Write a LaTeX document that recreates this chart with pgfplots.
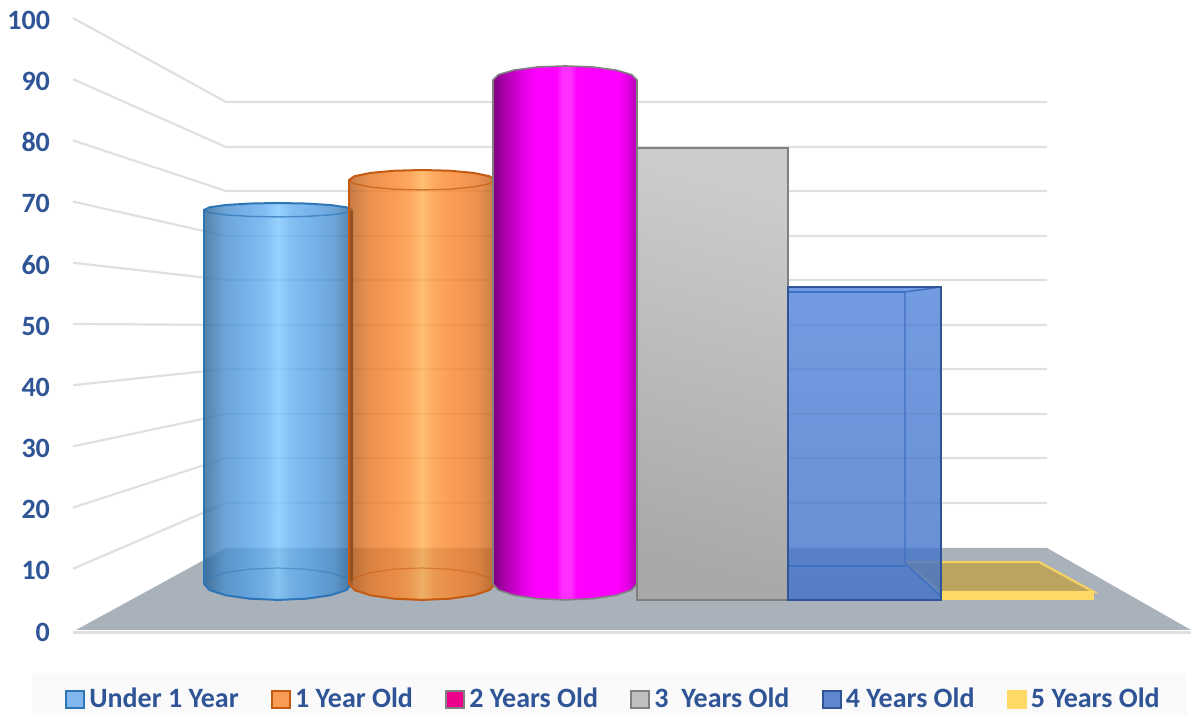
\documentclass[border=0pt]{standalone}
\usepackage{fontspec}
\setmainfont{Carlito}
\usepackage{pgfplots}
\pgfplotsset{compat=1.18}

\definecolor{tickblue}{HTML}{2F5597}
\definecolor{gridc}{HTML}{E0E0E0}
\definecolor{floorc}{HTML}{A9B2BA}
\definecolor{panelc}{HTML}{FAFAFA}
\definecolor{blueedge}{HTML}{2A6395}
\definecolor{bluemid}{HTML}{56A1E7}
\definecolor{bluehi}{HTML}{7CC7FF}
\definecolor{blueline}{HTML}{2E75B6}
\definecolor{orangeedge}{HTML}{BA5C18}
\definecolor{orangemid}{HTML}{F9822A}
\definecolor{orangehi}{HTML}{FFAE50}
\definecolor{orangeline}{HTML}{C55A11}
\definecolor{overlapc}{HTML}{8B4A1A}
\definecolor{magdark}{HTML}{800080}
\definecolor{magmid}{HTML}{E000E0}
\definecolor{maghi}{HTML}{FF30FF}
\definecolor{greyline}{HTML}{808080}
\definecolor{boxtop}{HTML}{5082D9}
\definecolor{boxbot}{HTML}{4272C8}
\definecolor{boxline}{HTML}{2F5597}
\definecolor{boxinner}{HTML}{3F6FC0}
\definecolor{yellowc}{HTML}{FFD966}
\definecolor{yellowtop}{HTML}{BBA45F}

\pgfdeclarehorizontalshading{cylblue}{100bp}{color(0bp)=(blueedge); color(25bp)=(blueedge); color(32bp)=(bluemid!70!blueedge); color(40bp)=(bluemid); color(46bp)=(bluemid!60!bluehi); color(50bp)=(bluehi); color(54bp)=(bluemid!60!bluehi); color(61bp)=(bluemid); color(69bp)=(bluemid!70!blueedge); color(75bp)=(blueedge); color(100bp)=(blueedge)}
\pgfdeclarehorizontalshading{cylorange}{100bp}{color(0bp)=(orangeedge); color(25bp)=(orangeedge); color(32bp)=(orangemid!70!orangeedge); color(40bp)=(orangemid); color(46bp)=(orangemid!60!orangehi); color(50bp)=(orangehi); color(54bp)=(orangemid!60!orangehi); color(61bp)=(orangemid); color(69bp)=(orangemid!70!orangeedge); color(75bp)=(orangeedge); color(100bp)=(orangeedge)}
\pgfdeclarehorizontalshading{cylmag}{100bp}{color(0bp)=(magdark); color(25bp)=(magdark); color(30bp)=(magdark!45!magmid); color(35bp)=(magmid); color(40bp)=(magenta); color(47bp)=(magenta); color(49bp)=(maghi); color(52bp)=(maghi); color(54bp)=(magenta); color(68bp)=(magenta); color(72bp)=(magmid); color(75bp)=(magdark!55!magmid); color(100bp)=(magdark)}

\pgfplotsset{
    gridline/.style={gridc, line width=1.1pt},
    swatch/.style={legend image code/.code={\draw[##1] (0pt,-4.2pt) rectangle (9pt,4.2pt);}},
}

\begin{document}
\begin{tikzpicture}
\begin{axis}[
    scale only axis,
    width=595.5pt, height=357.5pt,
    xmin=0, xmax=1191,
    ymin=-13.89, ymax=102.94,
    clip=false,
    no marks,
    axis line style={draw=none},
    major tick length=0pt,
    xtick=\empty,
    ytick={0,10,...,100},
    /pgf/number format/assume math mode=true,
    yticklabel style={font=\fontsize{14}{15}\selectfont\bfseries, text=tickblue, xshift=28.5pt, yshift=-1pt},
    legend columns=6,
    legend cell align=left,
    legend style={at={(axis cs:614.5,-11.35)}, anchor=center, draw=none, fill=none,
        font=\fontsize{14}{15}\selectfont\bfseries, text=tickblue, inner sep=0pt,
        /tikz/every even column/.append style={column sep=14.2pt}},
]

% legend band
\addplot[forget plot, fill=panelc, draw=none] coordinates {(32,-7.03) (1187,-7.03) (1187,-13.89) (32,-13.89)} -- cycle;

% back wall grid lines, left side wall then back wall
\addplot[forget plot, gridline] coordinates {(73,100) (226,86.27) (1047,86.27)};
\addplot[forget plot, gridline] coordinates {(73,90) (226,78.92) (1047,78.92)};
\addplot[forget plot, gridline] coordinates {(73,80) (226,71.73) (1047,71.73)};
\addplot[forget plot, gridline] coordinates {(73,70) (226,64.38) (1047,64.38)};
\addplot[forget plot, gridline] coordinates {(73,60) (226,57.19) (1047,57.19)};
\addplot[forget plot, gridline] coordinates {(73,50) (226,49.84) (1047,49.84)};
\addplot[forget plot, gridline] coordinates {(73,40) (226,42.65) (1047,42.65)};
\addplot[forget plot, gridline] coordinates {(73,30) (226,35.29) (1047,35.29)};
\addplot[forget plot, gridline] coordinates {(73,20) (226,28.10) (1047,28.10)};
\addplot[forget plot, gridline] coordinates {(73,10) (226,20.75) (1047,20.75)};

% floor
\addplot[forget plot, gridc, line width=1.2pt] coordinates {(73,-0.4) (1191,-0.4)};
\addplot[forget plot, fill=floorc, draw=none] coordinates {(76,0) (226,13.40) (1047,13.40) (1191,0)} -- cycle;

% under 1 year, glass cylinder
\addplot[forget plot, shade, shading=cylblue, fill opacity=0.8, draw=none] coordinates {
    (204,68.63) (209.6,69.07) (225.7,69.44) (249.7,69.68) (278,69.77) (306.3,69.68) (330.3,69.44) (346.4,69.07) (352,68.63)
    (352,7.52) (346.4,6.52) (330.3,5.67) (306.3,5.11) (278,4.91) (249.7,5.11) (225.7,5.67) (209.6,6.52) (204,7.52)} -- cycle;
\addplot[forget plot, blueline, line width=1pt] coordinates {
    (204,7.52) (204,68.63) (209.6,69.07) (225.7,69.44) (249.7,69.68) (278,69.77) (306.3,69.68) (330.3,69.44) (346.4,69.07) (352,68.63) (352,7.52)
    (346.4,6.52) (330.3,5.67) (306.3,5.11) (278,4.91) (249.7,5.11) (225.7,5.67) (209.6,6.52) (204,7.52)};
\addplot[forget plot, blueline, opacity=0.7, line width=0.7pt] coordinates {
    (204,68.63) (209.6,68.19) (225.7,67.82) (249.7,67.58) (278,67.49) (306.3,67.58) (330.3,67.82) (346.4,68.19) (352,68.63)};
\addplot[forget plot, blueline, opacity=0.5, line width=0.6pt] coordinates {
    (204,7.52) (209.6,8.52) (225.7,9.37) (249.7,9.93) (278,10.13) (306.3,9.93) (330.3,9.37) (346.4,8.52) (352,7.52)};

% 1 year old, glass cylinder
\addplot[forget plot, shade, shading=cylorange, fill opacity=0.8, draw=none] coordinates {
    (349,73.53) (354.6,74.15) (370.4,74.68) (394,75.04) (422,75.16) (450,75.04) (473.6,74.68) (489.4,74.15) (495,73.53)
    (495,7.52) (489.4,6.52) (473.6,5.67) (450,5.11) (422,4.91) (394,5.11) (370.4,5.67) (354.6,6.52) (349,7.52)} -- cycle;
\addplot[forget plot, orangeline, line width=1pt] coordinates {
    (349,7.52) (349,73.53) (354.6,74.15) (370.4,74.68) (394,75.04) (422,75.16) (450,75.04) (473.6,74.68) (489.4,74.15) (495,73.53) (495,7.52)
    (489.4,6.52) (473.6,5.67) (450,5.11) (422,4.91) (394,5.11) (370.4,5.67) (354.6,6.52) (349,7.52)};
\addplot[forget plot, orangeline, opacity=0.7, line width=0.7pt] coordinates {
    (349,73.53) (354.6,72.91) (370.4,72.38) (394,72.02) (422,71.90) (450,72.02) (473.6,72.38) (489.4,72.91) (495,73.53)};
\addplot[forget plot, orangeline, opacity=0.5, line width=0.6pt] coordinates {
    (349,7.52) (354.6,8.52) (370.4,9.37) (394,9.93) (422,10.13) (450,9.93) (473.6,9.37) (489.4,8.52) (495,7.52)};
% where the two glass cylinders overlap
\addplot[forget plot, overlapc, opacity=0.75, line width=1.6pt] coordinates {(351.5,8) (351.5,68.4)};

% 3 years old, grey box
\addplot[forget plot, top color=gray!40, bottom color=gray!68, shading angle=-15, draw=greyline, line width=1.2pt] coordinates {
    (637,78.76) (788,78.76) (788,4.90) (637,4.90)} -- cycle;

% 2 years old, opaque cylinder
\addplot[forget plot, shade, shading=cylmag, draw=none] coordinates {
    (493,89.87) (498.5,90.75) (514.1,91.49) (537.4,91.99) (565,92.16) (592.6,91.99) (615.9,91.49) (631.5,90.75) (637,89.87)
    (637,7.52) (631.5,6.52) (615.9,5.67) (592.6,5.11) (565,4.91) (537.4,5.11) (514.1,5.67) (498.5,6.52) (493,7.52)} -- cycle;
\addplot[forget plot, greyline, line width=0.8pt] coordinates {
    (493,7.52) (493,89.87) (498.5,90.75) (514.1,91.49) (537.4,91.99) (565,92.16) (592.6,91.99) (615.9,91.49) (631.5,90.75) (637,89.87) (637,7.52)
    (631.5,6.52) (615.9,5.67) (592.6,5.11) (565,4.91) (537.4,5.11) (514.1,5.67) (498.5,6.52) (493,7.52)};

% 5 years old, flat box
\addplot[forget plot, fill=yellowtop, draw=yellowc!85!yellowtop, line width=1.1pt] coordinates {
    (905,11.11) (1039,11.11) (1094,6.21) (941,6.21)} -- cycle;
\addplot[forget plot, fill=yellowc, draw=none] coordinates {
    (941,6.37) (1094,6.37) (1094,4.90) (941,4.90)} -- cycle;

% 4 years old, glass box
\addplot[forget plot, top color=boxtop, bottom color=boxbot, fill opacity=0.8, draw=none] coordinates {
    (788,56.05) (941,56.05) (941,4.90) (788,4.90)} -- cycle;
\addplot[forget plot, boxinner, line width=0.7pt] coordinates {(941,56.05) (905,55.23) (905,10.95) (941,5.39)};
\addplot[forget plot, boxinner, line width=0.7pt] coordinates {(788,55.23) (905,55.23)};
\addplot[forget plot, boxinner, line width=0.7pt] coordinates {(788,10.46) (905,10.46)};
\addplot[forget plot, boxline, line width=1.1pt] coordinates {
    (788,56.05) (941,56.05) (941,4.90) (788,4.90)} -- cycle;

% legend
\addlegendimage{swatch, fill=bluemid!75!white, draw=blueline, line width=1pt}
\addlegendentry{Under 1 Year}
\addlegendimage{swatch, fill=orangemid!80!white, draw=orangeline, line width=1pt}
\addlegendentry{1 Year Old}
\addlegendimage{swatch, fill=magenta, draw=greyline, line width=1pt}
\addlegendentry{2 Years Old}
\addlegendimage{swatch, fill=gray!50, draw=greyline, line width=1pt}
\addlegendentry{3\ \ Years Old}
\addlegendimage{swatch, fill=boxbot!85!white, draw=boxline, line width=1pt}
\addlegendentry{4 Years Old}
\addlegendimage{swatch, fill=yellowc, draw=yellowc, line width=1pt}
\addlegendentry{5 Years Old}

\end{axis}
\pgfresetboundingbox
\path (0,0) rectangle (595.5pt,357.5pt);
\end{tikzpicture}
\end{document}
